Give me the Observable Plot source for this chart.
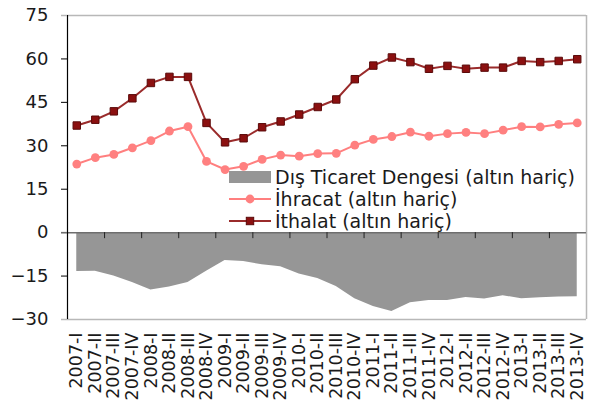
<!DOCTYPE html>
<html>
<head>
<meta charset="utf-8">
<script src="https://cdn.jsdelivr.net/npm/d3@7"></script>
<script src="https://cdn.jsdelivr.net/npm/@observablehq/plot@0.6"></script>
<style>
  html, body { margin: 0; padding: 0; background: #fff; }
  #wrap { position: relative; width: 594px; height: 403px; overflow: hidden; font-family: "DejaVu Sans", sans-serif; }
  #legend { position: absolute; left: 229px; top: 166px; color: #1a1a1a; font-size: 19px; line-height: 22px; }
  #legend .row { display: flex; align-items: center; height: 22px; white-space: nowrap; }
  #legend svg { margin-right: 4px; }
</style>
</head>
<body>
<div id="wrap"></div>
<script>
const quarters = ["2007-I","2007-II","2007-III","2007-IV","2008-I","2008-II","2008-III","2008-IV",
  "2009-I","2009-II","2009-III","2009-IV","2010-I","2010-II","2010-III","2010-IV",
  "2011-I","2011-II","2011-III","2011-IV","2012-I","2012-II","2012-III","2012-IV",
  "2013-I","2013-II","2013-III","2013-IV"];
const ihracat = [23.7,25.9,27.0,29.3,31.8,35.1,36.6,24.6,21.8,22.9,25.3,26.8,26.4,27.3,27.4,30.2,
  32.2,33.2,34.7,33.3,34.2,34.6,34.2,35.4,36.6,36.5,37.4,37.9];
const ithalat = [37.0,39.0,41.9,46.4,51.7,53.8,53.8,37.9,31.2,32.6,36.4,38.4,40.8,43.4,46.0,53.0,
  57.7,60.5,58.9,56.6,57.6,56.6,57.0,57.0,59.3,58.9,59.3,59.9];
const denge = [-13.4,-13.3,-15.0,-17.2,-19.8,-18.8,-17.2,-13.3,-9.6,-10.0,-11.1,-11.8,-14.3,-15.8,-18.6,-22.8,
  -25.5,-27.2,-24.2,-23.4,-23.4,-22.4,-22.9,-21.8,-22.8,-22.5,-22.2,-22.1];
const yTicks = [-30,-15,0,15,30,45,60,75];
const legendLabels = ["Dış Ticaret Dengesi (altın hariç)","İhracat (altın hariç)","İthalat (altın hariç)"];

const data = quarters.map((q, i) => ({i, q, ihracat: ihracat[i], ithalat: ithalat[i], denge: denge[i]}));
const xIdx = d3.range(quarters.length);
const xTickPos = d3.range(2, quarters.length - 1, 2).map(k => k - 0.5);

const chart = Plot.plot({
  width: 594,
  height: 403,
  marginLeft: 67,
  marginRight: 8,
  marginTop: 15,
  marginBottom: 84,
  style: {fontFamily: "DejaVu Sans, sans-serif", color: "#1a1a1a", background: "#fff"},
  x: {domain: [-0.5, quarters.length - 0.5]},
  y: {domain: [-30, 75]},
  marks: [
    Plot.areaY(data, {x: "i", y1: 0, y2: "denge", fill: "#969696"}),
    Plot.ruleY([75, -30], {stroke: "#b8b8b8", strokeWidth: 1.5}),
    Plot.ruleX([quarters.length - 0.5], {stroke: "#b8b8b8", strokeWidth: 1.5}),
    Plot.ruleY([0], {stroke: "#6e6e6e", strokeWidth: 1.5}),
    Plot.ruleX(xTickPos, {y1: 0, y2: 0, insetBottom: -6, stroke: "#222", strokeWidth: 1}),
    Plot.ruleX([-0.5], {stroke: "#000", strokeWidth: 1.2}),
    Plot.axisY(yTicks, {tickSize: 6, tickPadding: 13, fontSize: 18, stroke: "#000", label: null}),
    Plot.axisY([75, -30], {tickSize: 6, stroke: "#b8b8b8", strokeWidth: 1.5, text: null, label: null}),
    Plot.axisY([0], {tickSize: 6, stroke: "#6e6e6e", strokeWidth: 1.5, text: null, label: null}),
    Plot.axisX(xIdx, {tickSize: 0, tickPadding: 13, tickRotate: -90, fontSize: 17.5, tickFormat: i => quarters[i], label: null}),
    Plot.lineY(data, {x: "i", y: "ihracat", stroke: "#ff7f7f", strokeWidth: 2}),
    Plot.dot(data, {x: "i", y: "ihracat", r: 4.4, fill: "#ff8080", stroke: "none"}),
    Plot.lineY(data, {x: "i", y: "ithalat", stroke: "#9a2b2b", strokeWidth: 2}),
    Plot.dot(data, {x: "i", y: "ithalat", symbol: "square", r: 4.2, fill: "#8b1010", stroke: "#5a0a0a", strokeWidth: 1})
  ]
});

const wrap = document.getElementById("wrap");
wrap.appendChild(chart);

const legend = document.createElement("div");
legend.id = "legend";
const swatches = [
  `<svg width="42" height="14"><rect x="0" y="1" width="42" height="12" fill="#969696"/></svg>`,
  `<svg width="42" height="14"><line x1="0" y1="7" x2="42" y2="7" stroke="#ff7f7f" stroke-width="2"/><circle cx="21" cy="7" r="4.4" fill="#ff8080"/></svg>`,
  `<svg width="42" height="14"><line x1="0" y1="7" x2="42" y2="7" stroke="#9a2b2b" stroke-width="2"/><rect x="17.3" y="3.3" width="7.4" height="7.4" fill="#8b1010" stroke="#5a0a0a" stroke-width="1"/></svg>`
];
legend.innerHTML = legendLabels.map((t, k) => `<div class="row">${swatches[k]}<span>${t}</span></div>`).join("");
wrap.appendChild(legend);
</script>
</body>
</html>
